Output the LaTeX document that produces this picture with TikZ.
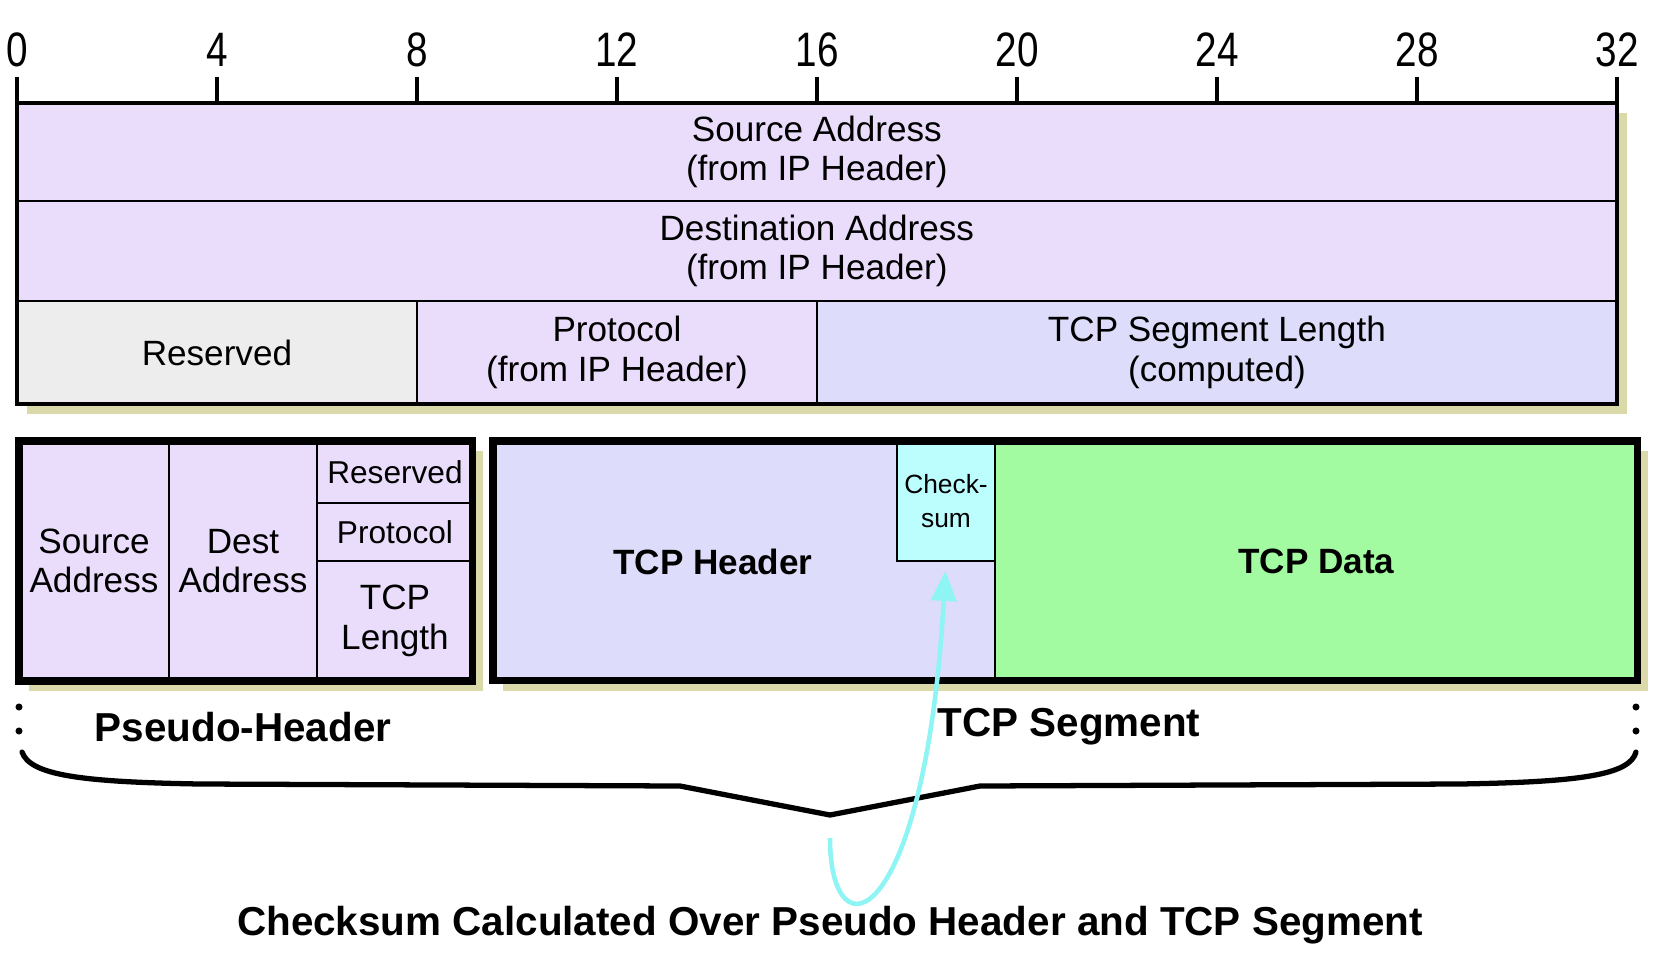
\documentclass[tikz,border=0pt]{standalone}
\usepackage{fontspec}
\setmainfont{Liberation Sans}
\usetikzlibrary{arrows.meta,fit,backgrounds}
\definecolor{lilac}{HTML}{EADDFB}
\definecolor{greyres}{HTML}{EDEDED}
\definecolor{periw}{HTML}{DDDDFB}
\definecolor{khaki}{HTML}{D9D9AA}
\definecolor{aqua}{HTML}{BCFDFD}
\definecolor{mint}{HTML}{A3FBA1}
\definecolor{cyanarr}{HTML}{8EF4F4}
\newcommand{\bitnum}[1]{\scalebox{1}[1.25]{#1}}

\begin{document}
\begin{tikzpicture}[x=0.02cm,y=-0.02cm,
  fld/.style={draw=black,line width=1.1pt,anchor=north west,inner sep=0pt,outer sep=0pt,
              align=center,font=\fontsize{20}{22.5}\selectfont},
  frm/.style={draw=black,inner sep=0pt,line width=#1},
  sh/.style={fill=khaki},
  num/.style={font=\fontsize{22}{24}\selectfont},
  blbl/.style={font=\fontsize{23}{26}\selectfont\bfseries},
  tk/.style={line width=1.8pt},
  brc/.style={line width=3pt,line join=round,line cap=round},
  dots/.style={line width=4pt,line cap=round,dash pattern=on 0pt off 0.48cm},
  arr/.style={-{Triangle[length=6mm,width=5mm]},draw=cyanarr,line width=2.6pt,shorten >=0.2cm}]
\useasboundingbox (0,0) rectangle (1668,971);

% bit ruler
\node[num](n0) at (17,50){\bitnum{0}}; \node[num](n4) at (217,50){\bitnum{4}}; \node[num](n8) at (417,50){\bitnum{8}};
\node[num](n12) at (617,50){\bitnum{12}}; \node[num](n16) at (817,50){\bitnum{16}}; \node[num](n20) at (1017,50){\bitnum{20}};
\node[num](n24) at (1217,50){\bitnum{24}}; \node[num](n28) at (1417,50){\bitnum{28}}; \node[num](n32) at (1617,50){\bitnum{32}};
\draw[tk](17,77)--(17,103); \draw[tk](217,77)--(217,103); \draw[tk](417,77)--(417,103);
\draw[tk](617,77)--(617,103); \draw[tk](817,77)--(817,103); \draw[tk](1017,77)--(1017,103);
\draw[tk](1217,77)--(1217,103); \draw[tk](1417,77)--(1417,103); \draw[tk](1617,77)--(1617,103);

\begin{scope}[on background layer]
 \fill[sh](27,113) rectangle (1627,414);
 \fill[sh](29,451) rectangle (483,691); \fill[sh](503,451) rectangle (1648,691);\end{scope}

% pseudo header as laid out on 32 bits
\node[fld,fill=lilac,minimum width=32cm,minimum height=1.96cm](srcip) at (17,103){Source Address\\(from IP Header)};
\node[fld,fill=lilac,minimum width=32cm,minimum height=2cm](dstip) at (17,201){Destination Address\\(from IP Header)};
\node[fld,fill=greyres,minimum width=8cm,minimum height=2.06cm](resv) at (17,301){Reserved};
\node[fld,fill=lilac,minimum width=8cm,minimum height=2.06cm](proto) at (417,301){Protocol\\(from IP Header)};
\node[fld,fill=periw,minimum width=16cm,minimum height=2.06cm](seglen) at (817,301){TCP Segment Length\\(computed)};
\node[frm=2pt,fit=(srcip)(seglen)](ipbox){};

% pseudo header + segment
\node[fld,fill=lilac,minimum width=3cm,minimum height=4.8cm](psrc) at (19,441){Source\\Address};
\node[fld,fill=lilac,minimum width=2.96cm,minimum height=4.8cm](pdst) at (169,441){Dest\\Address};
\node[fld,fill=lilac,minimum width=3.12cm,minimum height=1.24cm,font=\fontsize{18}{21}\selectfont](presv) at (317,441){Reserved};
\node[fld,fill=lilac,minimum width=3.12cm,minimum height=1.16cm,font=\fontsize{18}{21}\selectfont](pproto) at (317,503){Protocol};
\node[fld,fill=lilac,minimum width=3.12cm,minimum height=2.4cm,font=\fontsize{20}{23}\selectfont](plen) at (317,561){TCP\\Length};
\node[frm=4pt,fit=(psrc)(plen)](phdr){};

\node[fld,fill=periw,minimum width=10.04cm,minimum height=4.8cm](thdr) at (493,441){};
\node[fld,fill=aqua,minimum width=1.96cm,minimum height=2.4cm,font=\fontsize{15}{19.5}\selectfont](cksum) at (897,441){Check-\\sum};
\node[fld,fill=mint,minimum width=12.86cm,minimum height=4.8cm,font=\fontsize{20}{22}\selectfont\bfseries](tdata) at (995,441){TCP Data};
\node[frm=4pt,fit=(thdr)(tdata)](tseg){};
\node[font=\fontsize{20}{22}\selectfont\bfseries](hdrtxt) at (713,562){TCP Header};

\node[blbl](phlbl) at (243,727){Pseudo-Header};
\node[blbl](seglbl) at (1069,727){TCP Segment};

% brace
\draw[dots](19,707)--(19,732); \draw[dots](1636,707)--(1636,732);
\draw[brc](22,752) .. controls (30,775) and (80,782) .. (200,784) -- (680,786) -- (830,815)
  -- (980,786) -- (1460,784) .. controls (1580,782) and (1630,775) .. (1636,752);
\coordinate (brtip) at (830,838);
\draw[arr](brtip) .. controls (830,960) and (925,930) .. (cksum.south);

\node[blbl](capt) at (830,925){Checksum Calculated Over Pseudo Header and TCP Segment};
\end{tikzpicture}
\end{document}
